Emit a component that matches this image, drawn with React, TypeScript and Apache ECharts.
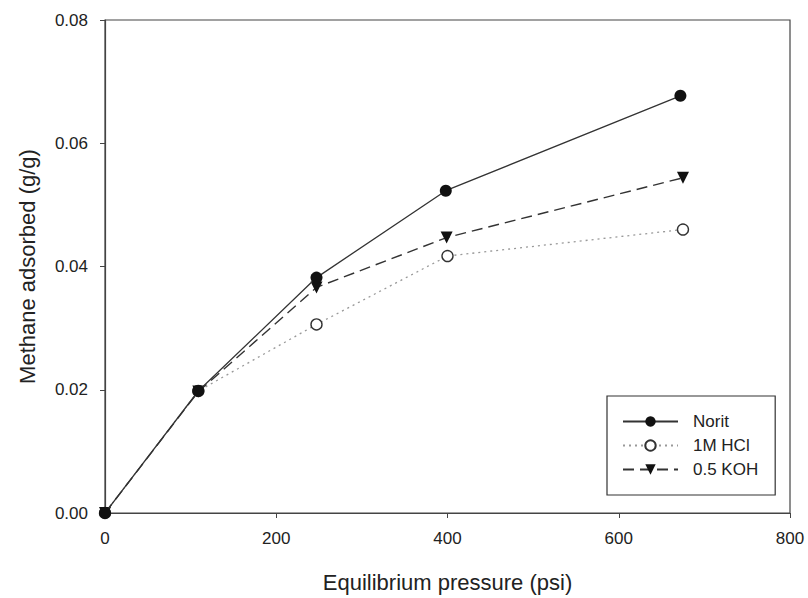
import React, { useEffect, useRef } from "react";
import * as echarts from "echarts";

const pressure = [0, 109, 247, 398, 672];
const noritValues = [0, 0.0198, 0.0382, 0.0523, 0.0677];
const hclPressure = [0, 109, 247, 400, 675];
const hclValues = [0, 0.0198, 0.0306, 0.0417, 0.046];
const kohPressure = [0, 109, 247, 399, 675];
const kohValues = [0, 0.0197, 0.0366, 0.0447, 0.0544];
const seriesNames = ["Norit", "1M HCl", "0.5 KOH"];

const pairs = (xs: number[], ys: number[]) => xs.map((x, i) => [x, ys[i]]);

export default function App() {
  const ref = useRef<HTMLDivElement>(null);
  useEffect(() => {
    if (!ref.current) return;
    const chart = echarts.init(ref.current, undefined, { renderer: "svg" });
    const font = "Liberation Sans, Arial, sans-serif";
    chart.setOption({
      animation: false,
      backgroundColor: "#fff",
      textStyle: { fontFamily: font },
      grid: {
        left: 105,
        right: 18,
        top: 20,
        bottom: 84,
        show: true,
        borderColor: "#444",
        borderWidth: 1.2,
        backgroundColor: "transparent",
      },
      legend: {
        orient: "vertical",
        left: 607,
        top: 396,
        padding: [17, 17, 17, 15],
        itemGap: 7,
        itemWidth: 55,
        itemHeight: 13,
        borderColor: "#333",
        borderWidth: 1.2,
        textStyle: { fontSize: 17, color: "#222", fontFamily: font, padding: [0, 0, 0, 10] },
        data: seriesNames,
      },
      xAxis: {
        type: "value",
        min: 0,
        max: 800,
        interval: 200,
        name: "Equilibrium pressure (psi)",
        nameLocation: "middle",
        nameGap: 58,
        nameTextStyle: { fontSize: 22, color: "#222", fontFamily: font },
        axisLine: { show: true, lineStyle: { color: "#444", width: 1.2 } },
        axisTick: { show: true, inside: false, length: 5, lineStyle: { color: "#444" } },
        axisLabel: { fontSize: 17, color: "#222", margin: 17, fontFamily: font },
        splitLine: { show: false },
      },
      yAxis: {
        type: "value",
        min: 0,
        max: 0.08,
        interval: 0.02,
        name: "Methane adsorbed (g/g)",
        nameLocation: "middle",
        nameGap: 67,
        nameTextStyle: { fontSize: 22, color: "#222", fontFamily: font },
        axisLine: { show: true, lineStyle: { color: "#444", width: 1.2 } },
        axisTick: { show: true, inside: false, length: 5, lineStyle: { color: "#444" } },
        axisLabel: {
          fontSize: 17,
          color: "#222",
          margin: 17,
          fontFamily: font,
          formatter: (v: number) => v.toFixed(2),
        },
        splitLine: { show: false },
      },
      series: [
        {
          name: seriesNames[1],
          type: "line",
          data: pairs(hclPressure, hclValues),
          symbol: "circle",
          symbolSize: 11,
          showAllSymbol: true,
          lineStyle: { color: "#999", width: 1.3, type: [2, 4] },
          itemStyle: { color: "#fff", borderColor: "#333", borderWidth: 1.4 },
          z: 2,
        },
        {
          name: seriesNames[2],
          type: "line",
          data: pairs(kohPressure, kohValues),
          symbol: "triangle",
          symbolRotate: 180,
          symbolSize: 12,
          lineStyle: { color: "#333", width: 1.4, type: [11, 6] },
          itemStyle: { color: "#111", borderWidth: 0 },
          z: 3,
        },
        {
          name: seriesNames[0],
          type: "line",
          data: pairs(pressure, noritValues),
          symbol: "circle",
          symbolSize: 12,
          lineStyle: { color: "#333", width: 1.3, type: "solid" },
          itemStyle: { color: "#111", borderWidth: 0 },
          z: 4,
        },
      ],
    });
    return () => chart.dispose();
  }, []);
  return <div ref={ref} style={{ width: 808, height: 598, position: "absolute", left: 0, top: 0 }} />;
}
